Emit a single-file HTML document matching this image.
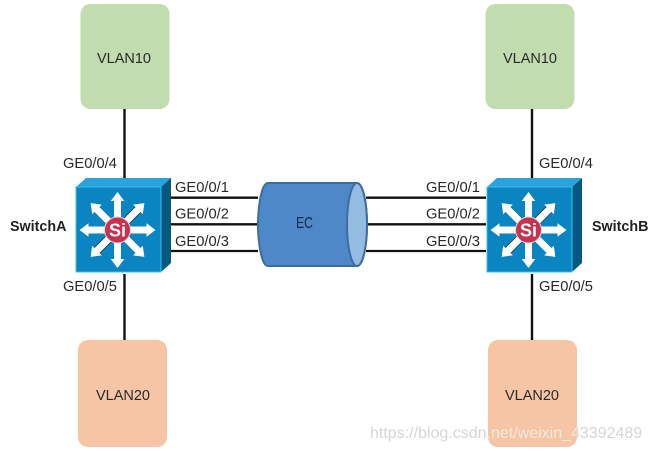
<!DOCTYPE html>
<html><head><meta charset="utf-8"><style>
html,body{margin:0;padding:0;background:#fff;width:651px;height:451px;overflow:hidden}
svg{display:block}
text{font-family:"Liberation Sans",sans-serif;font-size:14.7px;fill:#2a2a2a}
.v{font-size:14.5px;text-anchor:middle;fill:#2a2a2a}
.b{font-size:14.3px;font-weight:bold;fill:#222}
</style></head><body>
<svg width="651" height="451" viewBox="0 0 651 451" xmlns="http://www.w3.org/2000/svg">
<defs>
<clipPath id="peach"><rect x="488" y="340" width="89" height="107" rx="10"/></clipPath>
<g id="sw">
<polygon points="0,9 10,0 95,0 85,9" fill="#2aa3dc"/>
<polygon points="85,9 95,0 95,85 85,94" fill="#05587f"/>
<rect x="0" y="9" width="85" height="85" fill="#0a85c2" stroke="#35c0ee" stroke-width="1"/>
<g transform="translate(41.5,52)">
<path d="M1.500,-1.500L23,-23M-1.500,1.500L-23,23" stroke="#0b3048" stroke-width="8.500"/>
<path d="M-2,-2L-22,-22M2,2L22,22" stroke="#0b5a80" stroke-width="7.500"/>
</g>
<g transform="translate(41.5,52)" fill="#fff">
<g id="ar"><polygon points="-3.500,-8 -3.500,-29 -6.800,-29 0,-38 6.800,-29 3.500,-29 3.500,-8"/></g>
<use href="#ar" transform="rotate(45)"/>
<use href="#ar" transform="rotate(90)"/>
<use href="#ar" transform="rotate(135)"/>
<use href="#ar" transform="rotate(180)"/>
<use href="#ar" transform="rotate(225)"/>
<use href="#ar" transform="rotate(270)"/>
<use href="#ar" transform="rotate(315)"/>
<circle r="13" fill="#c8324f" stroke="#e8d8dc" stroke-width="1"/>
<text x="0" y="6.500" text-anchor="middle" style="font-size:18px;font-weight:bold;fill:#fff">Si</text>
</g>
</g>
</defs>

<g stroke="#111" stroke-width="2.400" fill="none">
<path d="M124.500 109V178M124.500 274V340M532 109V178M532 274V340"/>
<path d="M171 197.700H258M171 224.300H258M171 251H258M366 197.700H486M366 224.300H486M366 251H486" stroke-width="2.300"/>
</g>

<rect x="80.500" y="4" width="89" height="105" rx="10" fill="#c1dcaf"/>
<rect x="485.500" y="4" width="89" height="105" rx="10" fill="#c1dcaf"/>
<rect x="78" y="340" width="89" height="107" rx="10" fill="#f5c5a6"/>
<rect x="488" y="340" width="89" height="107" rx="10" fill="#f5c5a6"/>

<text class="v" x="124" y="63">VLAN10</text>
<text class="v" x="530" y="63">VLAN10</text>
<text class="v" x="123" y="400">VLAN20</text>
<text class="v" x="532" y="400">VLAN20</text>

<use href="#sw" x="76" y="178"/>
<use href="#sw" x="487" y="178"/>

<path d="M268 183H357A10 41.500 0 0 1 357 266H268C261 266 258 240 258 224.500C258 209 261 183 268 183Z" fill="#4f88c8" stroke="#3d6d9e" stroke-width="2"/>
<ellipse cx="357" cy="224.500" rx="10" ry="41.500" fill="#94bbe0" stroke="#3d6d9e" stroke-width="2"/>
<text x="296" y="228" textLength="17" lengthAdjust="spacingAndGlyphs" style="font-size:15.500px;fill:#13294a">EC</text>

<text x="63" y="168">GE0/0/4</text>
<text x="63" y="291">GE0/0/5</text>
<text x="175" y="192">GE0/0/1</text>
<text x="175" y="218.500">GE0/0/2</text>
<text x="175" y="246">GE0/0/3</text>
<text x="426" y="192">GE0/0/1</text>
<text x="426" y="218.500">GE0/0/2</text>
<text x="426" y="246">GE0/0/3</text>
<text x="539" y="168">GE0/0/4</text>
<text x="539" y="291">GE0/0/5</text>
<text class="b" x="10" y="231">SwitchA</text>
<text class="b" x="592" y="231">SwitchB</text>

<text x="370" y="438" style="font-size:16px;fill:#d6d6d6">https://blog.csdn.net/weixin_43392489</text>
<text x="370" y="438" clip-path="url(#peach)" style="font-size:16px;fill:#f6e6dc">https://blog.csdn.net/weixin_43392489</text>
</svg>
</body></html>
